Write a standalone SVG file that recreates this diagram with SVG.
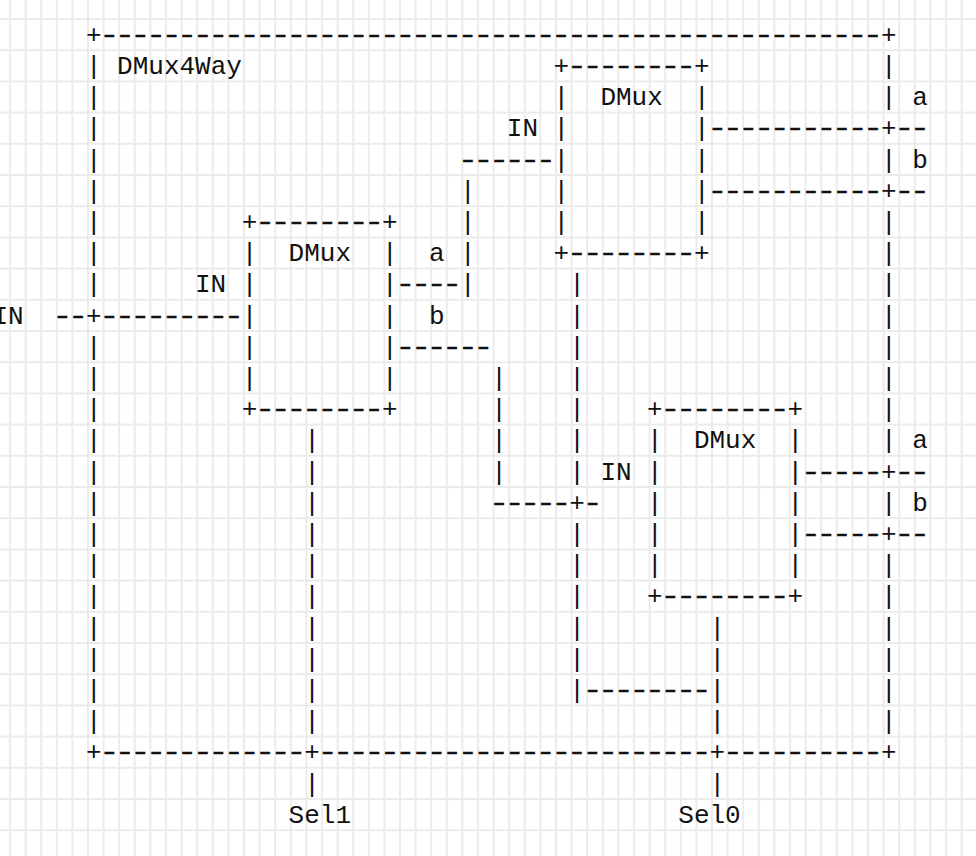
<svg xmlns="http://www.w3.org/2000/svg" width="976" height="856" viewBox="0 0 976 856">
<defs>
<pattern id="grid" patternUnits="userSpaceOnUse" x="9" y="18" width="15.6" height="31.2">
<rect width="2" height="31.2" fill="#ebebeb"/>
<rect width="15.6" height="2" fill="#ebebeb"/>
</pattern>
<style>
.t text { font-family: "Liberation Mono", "DejaVu Sans Mono", monospace; font-size: 26px; fill: #111; }
.t .dash text { letter-spacing: -3.608px; stroke: #111; stroke-width: 0.4px; }
</style>
</defs>
<rect width="976" height="856" fill="#fff"/>
<rect width="976" height="856" fill="url(#grid)"/>

<g id="dmux4way" class="t">
<text><tspan x="85.9" y="42.8">+</tspan><tspan x="881.0" y="42.8">+</tspan></text>
<text x="117.1" y="74.0">DMux4Way</text>
<text><tspan x="85.9" y="74.0">|</tspan><tspan x="85.9" y="105.2">|</tspan><tspan x="85.9" y="136.4">|</tspan><tspan x="85.9" y="167.6">|</tspan><tspan x="85.9" y="198.8">|</tspan><tspan x="85.9" y="230.0">|</tspan><tspan x="85.9" y="261.2">|</tspan><tspan x="85.9" y="292.4">|</tspan><tspan x="85.9" y="323.6">+</tspan><tspan x="85.9" y="354.8">|</tspan><tspan x="85.9" y="386.0">|</tspan><tspan x="85.9" y="417.2">|</tspan><tspan x="85.9" y="448.4">|</tspan><tspan x="85.9" y="479.6">|</tspan><tspan x="85.9" y="510.8">|</tspan><tspan x="85.9" y="542.0">|</tspan><tspan x="85.9" y="573.2">|</tspan><tspan x="85.9" y="604.4">|</tspan><tspan x="85.9" y="635.6">|</tspan><tspan x="85.9" y="666.8">|</tspan><tspan x="85.9" y="698.0">|</tspan><tspan x="85.9" y="729.2">|</tspan></text>
<text><tspan x="881.0" y="74.0">|</tspan><tspan x="881.0" y="105.2">|</tspan><tspan x="881.0" y="136.4">+</tspan><tspan x="881.0" y="167.6">|</tspan><tspan x="881.0" y="198.8">+</tspan><tspan x="881.0" y="230.0">|</tspan><tspan x="881.0" y="261.2">|</tspan><tspan x="881.0" y="292.4">|</tspan><tspan x="881.0" y="323.6">|</tspan><tspan x="881.0" y="354.8">|</tspan><tspan x="881.0" y="386.0">|</tspan><tspan x="881.0" y="417.2">|</tspan><tspan x="881.0" y="448.4">|</tspan><tspan x="881.0" y="479.6">+</tspan><tspan x="881.0" y="510.8">|</tspan><tspan x="881.0" y="542.0">+</tspan><tspan x="881.0" y="573.2">|</tspan><tspan x="881.0" y="604.4">|</tspan><tspan x="881.0" y="635.6">|</tspan><tspan x="881.0" y="666.8">|</tspan><tspan x="881.0" y="698.0">|</tspan><tspan x="881.0" y="729.2">|</tspan></text>
<text><tspan x="85.9" y="760.4">+</tspan><tspan x="304.2" y="760.4">+</tspan><tspan x="709.5" y="760.4">+</tspan><tspan x="881.0" y="760.4">+</tspan></text>
<g class="dash" transform="scale(1.3 1)">
<text x="76.27" y="42.8">--------------------------------------------------</text>
<text x="76.27" y="760.4">-------------</text>
<text x="244.16" y="760.4">-------------------------</text>
<text x="555.96" y="760.4">----------</text>
</g>
</g>

<g id="dmux-top" class="t">
<text><tspan x="553.6" y="74.0">+</tspan><tspan x="693.9" y="74.0">+</tspan><tspan x="553.6" y="261.2">+</tspan><tspan x="693.9" y="261.2">+</tspan></text>
<text x="600.4" y="105.2">DMux</text>
<text><tspan x="553.6" y="105.2">|</tspan><tspan x="553.6" y="136.4">|</tspan><tspan x="553.6" y="167.6">|</tspan><tspan x="553.6" y="198.8">|</tspan><tspan x="553.6" y="230.0">|</tspan></text>
<text><tspan x="693.9" y="105.2">|</tspan><tspan x="693.9" y="136.4">|</tspan><tspan x="693.9" y="167.6">|</tspan><tspan x="693.9" y="198.8">|</tspan><tspan x="693.9" y="230.0">|</tspan></text>
<g class="dash" transform="scale(1.3 1)">
<text x="436.05" y="74.0">--------</text>
<text x="436.05" y="261.2">--------</text>
</g>
</g>

<g id="dmux-left" class="t">
<text><tspan x="241.8" y="230.0">+</tspan><tspan x="382.1" y="230.0">+</tspan><tspan x="241.8" y="417.2">+</tspan><tspan x="382.1" y="417.2">+</tspan></text>
<text x="288.6" y="261.2">DMux</text>
<text><tspan x="241.8" y="261.2">|</tspan><tspan x="241.8" y="292.4">|</tspan><tspan x="241.8" y="323.6">|</tspan><tspan x="241.8" y="354.8">|</tspan><tspan x="241.8" y="386.0">|</tspan></text>
<text><tspan x="382.1" y="261.2">|</tspan><tspan x="382.1" y="292.4">|</tspan><tspan x="382.1" y="323.6">|</tspan><tspan x="382.1" y="354.8">|</tspan><tspan x="382.1" y="386.0">|</tspan></text>
<g class="dash" transform="scale(1.3 1)">
<text x="196.19" y="230.0">--------</text>
<text x="196.19" y="417.2">--------</text>
</g>
</g>

<g id="dmux-right" class="t">
<text><tspan x="647.1" y="417.2">+</tspan><tspan x="787.4" y="417.2">+</tspan><tspan x="647.1" y="604.4">+</tspan><tspan x="787.4" y="604.4">+</tspan></text>
<text x="693.9" y="448.4">DMux</text>
<text><tspan x="647.1" y="448.4">|</tspan><tspan x="647.1" y="479.6">|</tspan><tspan x="647.1" y="510.8">|</tspan><tspan x="647.1" y="542.0">|</tspan><tspan x="647.1" y="573.2">|</tspan></text>
<text><tspan x="787.4" y="448.4">|</tspan><tspan x="787.4" y="479.6">|</tspan><tspan x="787.4" y="510.8">|</tspan><tspan x="787.4" y="542.0">|</tspan><tspan x="787.4" y="573.2">|</tspan></text>
<g class="dash" transform="scale(1.3 1)">
<text x="507.99" y="417.2">--------</text>
<text x="507.99" y="604.4">--------</text>
</g>
</g>

<g id="connectors" class="t">
<text x="-7.6" y="323.6">IN</text>
<text x="195.0" y="292.4">IN</text>
<text x="428.9" y="261.2">a</text>
<text><tspan x="460.1" y="198.8">|</tspan><tspan x="460.1" y="230.0">|</tspan><tspan x="460.1" y="261.2">|</tspan><tspan x="460.1" y="292.4">|</tspan></text>
<text x="506.8" y="136.4">IN</text>
<text x="428.9" y="323.6">b</text>
<text><tspan x="491.3" y="386.0">|</tspan><tspan x="491.3" y="417.2">|</tspan><tspan x="491.3" y="448.4">|</tspan><tspan x="491.3" y="479.6">|</tspan></text>
<text x="569.2" y="510.8">+</text>
<text x="600.4" y="479.6">IN</text>
<text><tspan x="569.2" y="292.4">|</tspan><tspan x="569.2" y="323.6">|</tspan><tspan x="569.2" y="354.8">|</tspan><tspan x="569.2" y="386.0">|</tspan><tspan x="569.2" y="417.2">|</tspan><tspan x="569.2" y="448.4">|</tspan><tspan x="569.2" y="479.6">|</tspan><tspan x="569.2" y="542.0">|</tspan><tspan x="569.2" y="573.2">|</tspan><tspan x="569.2" y="604.4">|</tspan><tspan x="569.2" y="635.6">|</tspan><tspan x="569.2" y="666.8">|</tspan><tspan x="569.2" y="698.0">|</tspan></text>
<text><tspan x="709.5" y="635.6">|</tspan><tspan x="709.5" y="666.8">|</tspan><tspan x="709.5" y="698.0">|</tspan><tspan x="709.5" y="729.2">|</tspan><tspan x="709.5" y="791.6">|</tspan></text>
<text x="678.3" y="822.8">Sel0</text>
<text><tspan x="304.2" y="448.4">|</tspan><tspan x="304.2" y="479.6">|</tspan><tspan x="304.2" y="510.8">|</tspan><tspan x="304.2" y="542.0">|</tspan><tspan x="304.2" y="573.2">|</tspan><tspan x="304.2" y="604.4">|</tspan><tspan x="304.2" y="635.6">|</tspan><tspan x="304.2" y="666.8">|</tspan><tspan x="304.2" y="698.0">|</tspan><tspan x="304.2" y="729.2">|</tspan><tspan x="304.2" y="791.6">|</tspan></text>
<text x="288.6" y="822.8">Sel1</text>
<text x="912.2" y="105.2">a</text>
<text x="912.2" y="167.6">b</text>
<text x="912.2" y="448.4">a</text>
<text x="912.2" y="510.8">b</text>
<g class="dash" transform="scale(1.3 1)">
<text x="40.29" y="323.6">--</text>
<text x="76.27" y="323.6">---------</text>
<text x="304.12" y="292.4">----</text>
<text x="352.09" y="167.6">------</text>
<text x="304.12" y="354.8">------</text>
<text x="376.08" y="510.8">-----</text>
<text x="448.03" y="510.8">-</text>
<text x="448.03" y="698.0">--------</text>
<text x="543.97" y="136.4">-----------</text>
<text x="687.88" y="136.4">--</text>
<text x="543.97" y="198.8">-----------</text>
<text x="687.88" y="198.8">--</text>
<text x="615.92" y="479.6">-----</text>
<text x="687.88" y="479.6">--</text>
<text x="615.92" y="542.0">-----</text>
<text x="687.88" y="542.0">--</text>
</g>
</g>
</svg>
